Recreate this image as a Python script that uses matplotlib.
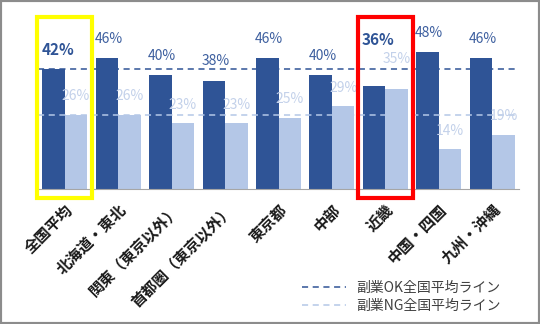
import numpy as np
import matplotlib
matplotlib.use("Agg")
import matplotlib.pyplot as plt
from matplotlib.patches import Rectangle

plt.rcParams['font.family'] = ['Noto Sans CJK JP', 'DejaVu Sans']

# データ
regions = ['全国平均', '北海道・東北', '関東（東京以外）', '首都圏（東京以外）', '東京都',
           '中部', '近畿', '中国・四国', '九州・沖縄']
ok_vals = [42, 46, 40, 38, 46, 40, 36, 48, 46]   # 副業OK
ng_vals = [26, 26, 23, 23, 25, 29, 35, 14, 19]   # 副業NG
ok_avg = 42
ng_avg = 26
highlight = {0: '#ffff00', 6: '#ff0000'}   # 枠の色

dark = '#2f5496'
light = '#b4c7e7'

fig = plt.figure(figsize=(5.4, 3.24), dpi=100)
ax = fig.add_axes([38 / 540, 135 / 324, 481 / 540, 171 / 324])

x = np.arange(len(regions))
w = 0.42
ax.bar(x - w / 2, ok_vals, w, color=dark, zorder=2)
ax.bar(x + w / 2, ng_vals, w, color=light, zorder=2)

ax.axhline(ok_avg, color=dark, ls=(0, (4, 3)), lw=1.1, zorder=3, label='副業OK全国平均ライン')
ax.axhline(ng_avg, color=light, ls=(0, (4, 3)), lw=1.1, zorder=3, label='副業NG全国平均ライン')

for i in range(len(regions)):
    bold = i in highlight
    ok_y = ok_vals[i] + 6.8
    ng_y = ng_vals[i] + 6.5
    # ラベルが重なる場合は上にずらす
    if abs(ok_y - ng_y) < 5:
        ng_y = ng_vals[i] + 10.5
        ok_y = ng_y + 6.7
    ax.text(x[i] - w / 2 + (0.08 if bold else 0.03), ok_y, f'{ok_vals[i]}%',
            ha='center', va='center', fontsize=11 if bold else 10,
            fontweight='bold' if bold else 'normal',
            color=dark if bold else '#3d5f9f', zorder=4)
    ax.text(x[i] + w / 2, ng_y, f'{ng_vals[i]}%', ha='center', va='center',
            fontsize=10, color='#c3d1ea', zorder=4)

ax.set_xlim(-0.5, len(regions) - 0.5)
ax.set_ylim(0, 60)
ax.set_yticks([])
for s in ['top', 'right', 'left']:
    ax.spines[s].set_visible(False)
ax.spines['bottom'].set_color('#a6a6a6')
ax.tick_params(axis='x', length=0, pad=9)
ax.set_xticks(x)
ax.set_xticklabels(regions, rotation=45, ha='right', rotation_mode='anchor',
                   fontsize=11, fontweight='bold', color='#1a1a1a')

# 強調の枠
for i, c in highlight.items():
    ax.add_patch(Rectangle((x[i] - 0.51, -3), 1.02, 63.5, fill=False, ec=c, lw=3,
                           clip_on=False, zorder=5))

leg = fig.legend(loc='lower right', bbox_to_anchor=(0.95, -0.005), frameon=False,
                 fontsize=10, handlelength=3.2, labelspacing=0.3, handletextpad=0.7)
for t in leg.get_texts():
    t.set_color('#404040')

fig.patches.append(Rectangle((0, 0), 1, 1, transform=fig.transFigure, fill=False,
                             ec='#8c8c8c', lw=3))

fig.savefig('out.png', dpi=100)
